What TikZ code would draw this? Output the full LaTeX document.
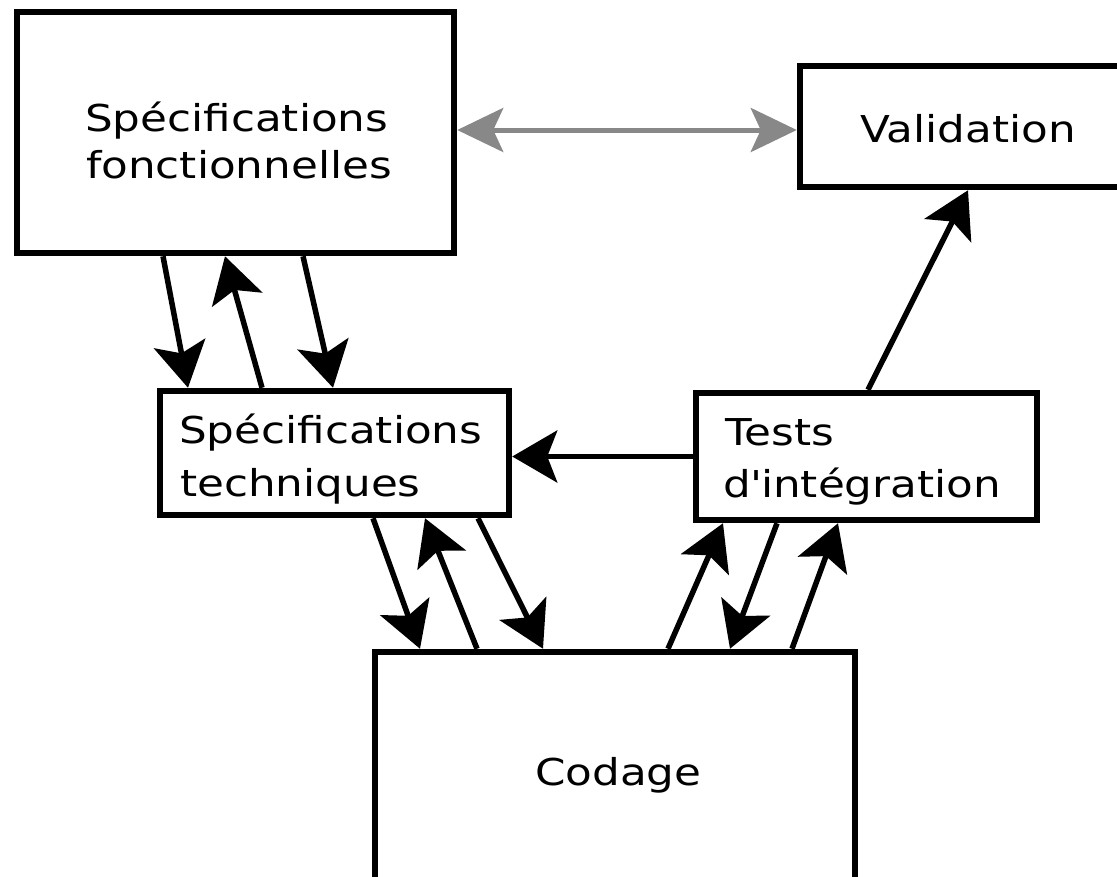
\documentclass[tikz,border=0pt]{standalone}
\usepackage{fontspec}
\setmainfont{DejaVu Sans}[FakeStretch=1.18]
\usetikzlibrary{arrows.meta,calc}
\definecolor{arrgray}{HTML}{888888}
\begin{document}
\begin{tikzpicture}[x=1pt,y=-1pt,
  box/.style={draw=black, line width=6.5pt, fill=white, inner sep=0pt},
  txt/.style={anchor=base west, inner sep=0pt, font=\fontsize{37}{44}\selectfont},
  arr/.style={line width=5.5pt, -{Stealth[length=45pt,width=52pt,inset=10pt]}},
  garr/.style={draw=arrgray, line width=5pt,
    {Stealth[length=46pt,width=44pt,inset=10pt]}-{Stealth[length=46pt,width=44pt,inset=10pt]}}]
\clip (0,0) rectangle (1117,876);
\fill[white] (0,0) rectangle (1117,876);

% boxes
\node[box, minimum width=437pt, minimum height=241pt] (sf) at (235.5,132.5) {};
\node[box, minimum width=340pt, minimum height=121pt] (val) at (970,126.5) {};
\node[box, minimum width=349pt, minimum height=124pt] (st) at (334.5,453) {};
\node[box, minimum width=341pt, minimum height=127pt] (ti) at (866.5,456.5) {};
\node[box, minimum width=480pt, minimum height=248pt] (cod) at (615,776) {};

% texts
\node[txt] (sf1) at (85,131) {Spécifications};
\node[txt] (sf2) at (86,178) {fonctionnelles};
\node[txt] (val1) at (860,142) {Validation};
\node[txt] (st1) at (179,443) {Spécifications};
\node[txt] (st2) at (180,496) {techniques};
\node[txt] (ti1) at (725,445) {Tests};
\node[txt] (ti2) at (723,497) {d\textquotesingle intégration};
\node[txt] (cod1) at (535,785) {Codage};

% connectors
\draw[garr] (sf.east |- 0,130) -- (val.west |- 0,130);

\draw[arr] (sf.south -| 163,0) -- (st.north -| 188,0);
\draw[arr] (st.north -| 262,0) -- (sf.south -| 225,0);
\draw[arr] (sf.south -| 303,0) -- (st.north -| 333,0);

\draw[arr] (st.south -| 373,0) -- (cod.north -| 420,0);
\draw[arr] (cod.north -| 477,0) -- (st.south -| 425,0);
\draw[arr] (st.south -| 478,0) -- (cod.north -| 543,0);

\draw[arr] (cod.north -| 668,0) -- (ti.south -| 723,0);
\draw[arr] (ti.south -| 777,0) -- (cod.north -| 730,0);
\draw[arr] (cod.north -| 792,0) -- (ti.south -| 838,0);

\draw[arr] (ti.west) -- (ti.west -| st.east);
\draw[arr] (ti.north -| 868,0) -- (val.south -| 968,0);
\end{tikzpicture}
\end{document}
